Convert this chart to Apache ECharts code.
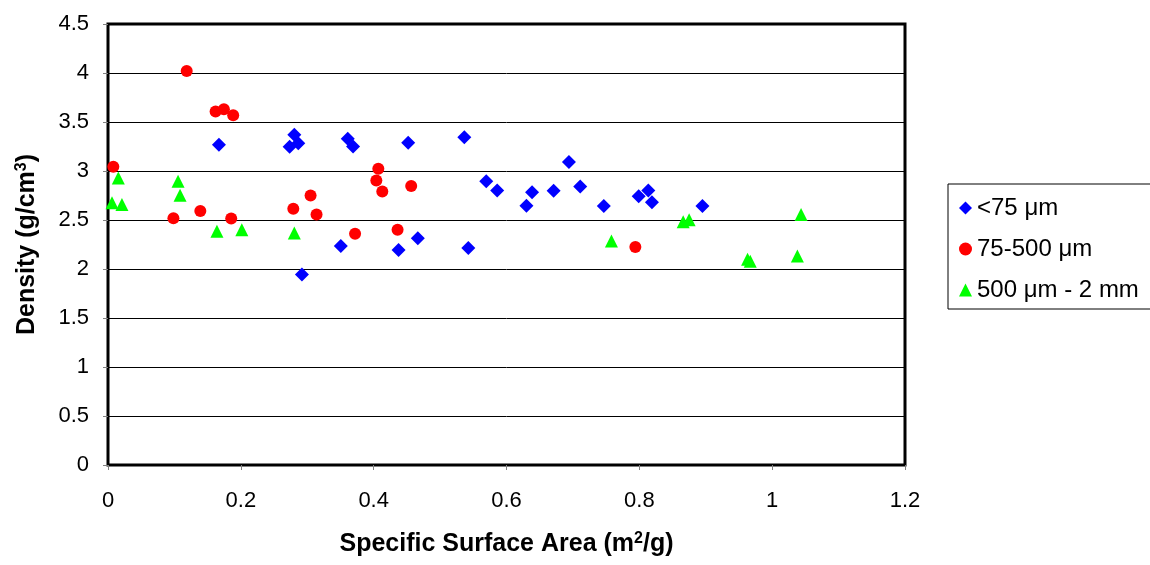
<!DOCTYPE html>
<html><head><meta charset="utf-8">
<script src="https://cdn.jsdelivr.net/npm/echarts@6/dist/echarts.min.js"></script>
<style>html,body{margin:0;padding:0;background:#fff}#c{width:1150px;height:565px}</style>
</head><body><div id="c"></div>
<script>
var seriesNames = ['<75 μm', '75-500 μm', '500 μm - 2 mm'];
var fineX = [0.167,0.2805,0.2735,0.2865,0.361,0.369,0.452,0.5365,0.292,0.3505,0.4375,0.4665,0.5425,0.5695,0.586,0.630,0.6385,0.671,0.694,0.711,0.7465,0.799,0.8135,0.819,0.895];
var fineY = [3.268,3.37,3.248,3.284,3.329,3.251,3.288,3.345,1.943,2.235,2.194,2.313,2.215,2.895,2.80,2.646,2.783,2.799,3.091,2.841,2.644,2.743,2.80,2.682,2.644];
var midX = [0.1185,0.162,0.1745,0.1885,0.008,0.0985,0.139,0.1855,0.279,0.305,0.314,0.372,0.407,0.404,0.413,0.4565,0.436,0.794];
var midY = [4.02,3.606,3.63,3.569,3.044,2.519,2.593,2.516,2.614,2.75,2.557,2.36,3.024,2.902,2.79,2.847,2.40,2.225];
var coarseX = [0.0155,0.006,0.021,0.1055,0.1085,0.164,0.2015,0.2805,0.758,0.866,0.875,0.963,0.967,1.038,1.0435];
var coarseY = [2.929,2.675,2.658,2.895,2.753,2.384,2.40,2.367,2.286,2.482,2.502,2.10,2.08,2.133,2.557];
var xTicks = {min:0, max:1.2, interval:0.2};
var yTicks = {min:0, max:4.5, interval:0.5};

function pairs(xs, ys){ return xs.map(function(x,i){return [x, ys[i]];}); }

var chart = echarts.init(document.getElementById('c'), null, {renderer:'canvas'});
var font = 'Arial, "Liberation Sans", sans-serif';
var supStyle = {fontSize:16, fontWeight:'bold', fontFamily:font, verticalAlign:'top', padding:[0,0,10,0], color:'#000'};
chart.setOption({
  animation:false,
  backgroundColor:'#fff',
  grid:{left:108, top:24, width:797, height:441, show:true, borderColor:'#000', borderWidth:3, backgroundColor:'transparent'},
  xAxis:{type:'value', min:xTicks.min, max:xTicks.max, interval:xTicks.interval,
    axisLine:{show:false}, axisTick:{show:true, length:5, lineStyle:{color:'#808080'}},
    splitLine:{show:false},
    axisLabel:{color:'#000', fontSize:22, fontFamily:font, margin:25, formatter:function(v){return String(+v.toFixed(1));}},
    name:'Specific Surface Area (m{sup|2}/g)', nameLocation:'middle', nameGap:66,
    nameTextStyle:{color:'#000', fontSize:25, fontWeight:'bold', fontFamily:font, rich:{sup:supStyle}}
  },
  yAxis:{type:'value', min:yTicks.min, max:yTicks.max, interval:yTicks.interval,
    axisLine:{show:false}, axisTick:{show:true, length:5, lineStyle:{color:'#808080'}},
    splitLine:{show:true, lineStyle:{color:'#000', width:1}},
    axisLabel:{color:'#000', fontSize:22, fontFamily:font, margin:19, formatter:function(v){return String(+v.toFixed(1));}},
    name:'Density (g/cm{sup|3})', nameLocation:'middle', nameGap:68, nameRotate:90,
    nameTextStyle:{color:'#000', fontSize:25, fontWeight:'bold', fontFamily:font, rich:{sup:supStyle}}
  },
  legend:{left:948, top:184, orient:'vertical', itemGap:17, itemWidth:13, itemHeight:13, itemTextGap:9,
    padding:[12,40,7,11], borderColor:'#000', borderWidth:1, backgroundColor:'#fff',
    textStyle:{color:'#000', fontSize:24, fontFamily:font},
    data:[{name:seriesNames[0], icon:'diamond'},{name:seriesNames[1], icon:'circle'},{name:seriesNames[2], icon:'triangle'}]
  },
  series:[
    {name:seriesNames[0], type:'scatter', symbol:'diamond', symbolSize:14, itemStyle:{color:'#0000FF', opacity:1}, data:pairs(fineX,fineY), z:3},
    {name:seriesNames[1], type:'scatter', symbol:'circle', symbolSize:12, itemStyle:{color:'#FF0000', opacity:1}, data:pairs(midX,midY), z:4},
    {name:seriesNames[2], type:'scatter', symbol:'triangle', symbolSize:13, itemStyle:{color:'#00FF00', opacity:1}, data:pairs(coarseX,coarseY), z:5}
  ]
});
</script></body></html>
